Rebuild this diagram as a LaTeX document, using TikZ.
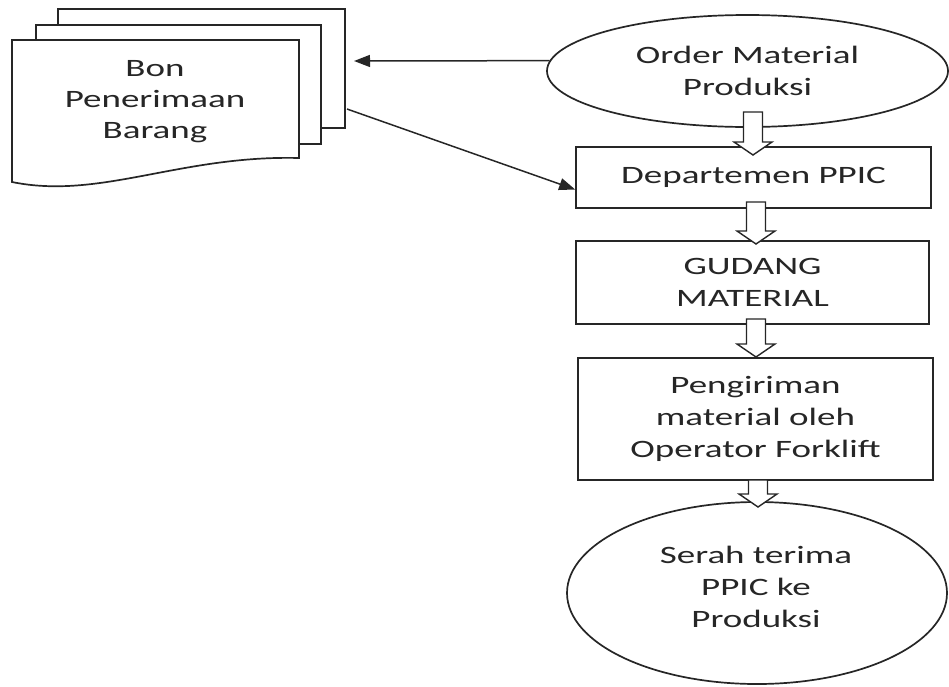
\documentclass[tikz,border=0pt]{standalone}
\usepackage{fontspec}
\setmainfont[FakeStretch=1.48]{Carlito}
\usetikzlibrary{shapes.geometric,arrows.meta,calc}
\definecolor{ink}{HTML}{262626}
\tikzset{
  base/.style={draw=ink, line width=1.7pt, fill=white, text=ink, inner sep=0pt,
    align=center, font=\fontsize{25}{32}\selectfont},
  boxnode/.style={base, rectangle},
  ovalnode/.style={base, ellipse},
  txt/.style={text=ink, align=center, font=\fontsize{25}{32}\selectfont},
  sheet/.style={draw=ink, line width=1.7pt, fill=white},
  thinarrow/.style={draw=ink, line width=1.5pt, -{Triangle[length=16pt,width=12pt]}},
  blk/.style={draw=ink, line width=1.4pt, fill=white, line join=miter}
}
\newcommand{\blockarrow}[2]{%
  \draw[blk] ($(#1)+(-9.5,0)$) -- ($(#2)+(-9.5,-13)$) -- ($(#2)+(-19,-13)$) --
    (#2) -- ($(#2)+(19,-13)$) -- ($(#2)+(9.5,-13)$) -- ($(#1)+(9.5,0)$) -- cycle;}
\begin{document}
\begin{tikzpicture}[x=1pt,y=-1pt]
\useasboundingbox (0,0) rectangle (949,686);
% document stack
\draw[sheet] (58,9) rectangle (345,128);
\draw[sheet] (36,25) rectangle (321,144);
\draw[sheet] (12,40) -- (299,40) -- (299,158)
  .. controls (180,155) and (100,200) .. (12,182) -- cycle;
\node[txt, font=\fontsize{25}{31}\selectfont] (bon) at (155,102)
  {Bon\\Penerimaan\\Barang};
% flow nodes
\node[ovalnode, minimum width=401pt, minimum height=112pt] (order) at (747.5,71)
  {Order Material\\Produksi};
\node[boxnode, minimum width=355pt, minimum height=61pt] (ppic) at (753.5,177.5)
  {Departemen PPIC};
\node[boxnode, minimum width=353pt, minimum height=83pt] (gudang) at (752.5,282.5)
  {GUDANG\\MATERIAL};
\node[boxnode, minimum width=355pt, minimum height=122pt] (kirim) at (755.5,419)
  {Pengiriman\\material oleh\\Operator Forklift};
\node[ovalnode, minimum width=380pt, minimum height=182pt] (serah) at (757,593) {};
\node[txt] (serahtxt) at (756,587) {Serah terima\\PPIC ke\\Produksi};
% block arrows
\coordinate (a1s) at (753,112); \coordinate (a1e) at (753,155);
\coordinate (a2s) at (756,202); \coordinate (a2e) at (756,244);
\coordinate (a3s) at (756,319); \coordinate (a3e) at (756,357);
\coordinate (a4s) at (758,480); \coordinate (a4e) at (758,507);
\blockarrow{a1s}{a1e}
\blockarrow{a2s}{a2e}
\blockarrow{a3s}{a3e}
\blockarrow{a4s}{a4e}
% thin arrows
\coordinate (bonin) at (354,61);
\coordinate (bonout) at (347,109);
\draw[thinarrow] (order.177) -- (bonin);
\draw[thinarrow] (bonout) -- ($(ppic.west)+(0,12)$);
\end{tikzpicture}
\end{document}
